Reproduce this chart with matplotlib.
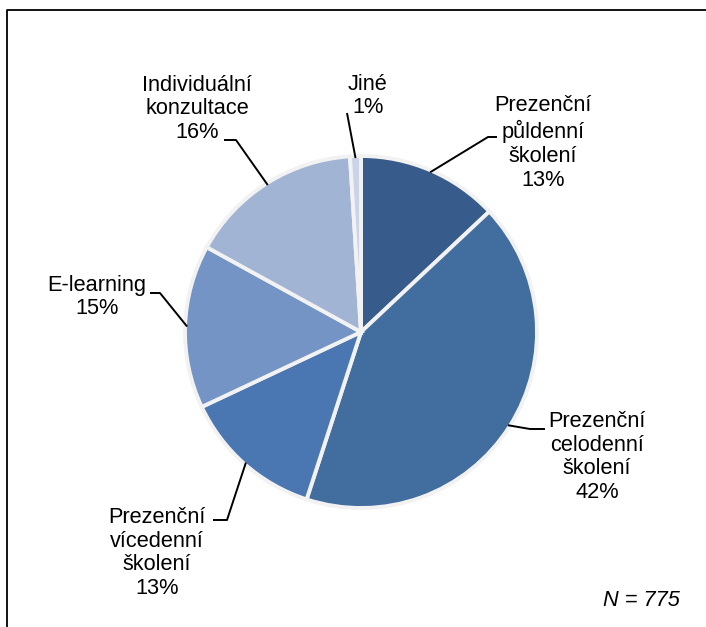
import numpy as np
import matplotlib.pyplot as plt
from matplotlib.lines import Line2D

# Preferred training forms (share of respondents)
categories = [
    "Prezenční\npůldenní\nškolení",
    "Prezenční\ncelodenní\nškolení",
    "Prezenční\nvícedenní\nškolení",
    "E-learning",
    "Individuální\nkonzultace",
    "Jiné",
]
shares = [13, 42, 13, 15, 16, 1]
colors = ["#375B8A", "#416D9F", "#4A77B1", "#7394C4", "#A2B4D4", "#C9D4E8"]
sample_note = "N = 775"

W, H = 706, 627
plt.rcParams["font.family"] = ["Liberation Sans", "DejaVu Sans"]
FS = 15.7

fig = plt.figure(figsize=(W / 100, H / 100), dpi=100)
ax = fig.add_axes([0, 0, 1, 1])


def Y(y):
    # layout helper: top-down pixel position -> axes y
    return H - y


cx, cy, R = 361, Y(332), 176
wedges, _ = ax.pie(
    shares,
    colors=colors,
    startangle=90,
    counterclock=False,
    center=(cx, cy),
    radius=R,
    wedgeprops=dict(edgecolor="#F2F2F2", linewidth=2.8),
    frame=True,
)
ax.set_xlim(0, W)
ax.set_ylim(0, H)
ax.set_aspect("equal")
ax.axis("off")

# label text centres and leader elbows (top-down pixel layout)
label_pos = [(543, 143), (597, 457), (157, 553), (97, 297), (197, 109), (368, 96)]
leader_pts = [
    [(488, 137), (497, 137)],
    [(530, 429), (545, 429)],
    [(227, 520), (213, 520)],
    [(160, 293), (150, 293)],
    [(236, 140), (224, 140)],
    [(347, 113)],
]

for w, cat, val, (tx, ty), pts in zip(wedges, categories, shares, label_pos, leader_pts):
    mid = np.deg2rad((w.theta1 + w.theta2) / 2)
    sx = cx + (R - 2) * np.cos(mid)
    sy = cy + (R - 2) * np.sin(mid)
    xs = [sx] + [p[0] for p in pts]
    ys = [sy] + [Y(p[1]) for p in pts]
    ax.add_line(Line2D(xs, ys, color="black", linewidth=1.4, solid_capstyle="butt"))
    ax.text(tx, Y(ty), f"{cat}\n{val}%", ha="center", va="center",
            fontsize=FS, linespacing=1.18, color="black")

ax.text(680, Y(600), sample_note, ha="right", va="center",
        fontsize=FS, style="italic", color="black")

# chart frame (top and left edges fall inside the image)
ax.add_line(Line2D([7, 7, W + 5], [0, Y(10), Y(10)], color="black", linewidth=1.3))

fig.savefig("out.png", dpi=100)
